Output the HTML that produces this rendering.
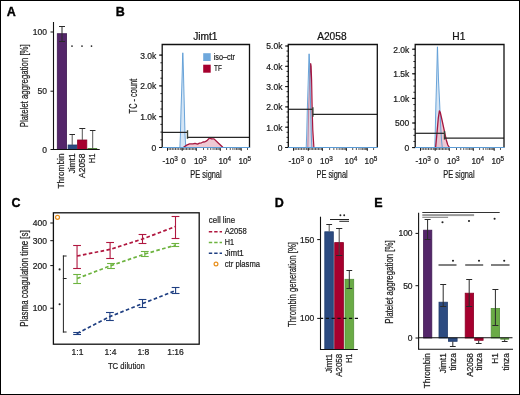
<!DOCTYPE html>
<html><head><meta charset="utf-8"><style>
html,body{margin:0;padding:0;background:#fff;}
body{width:520px;height:395px;overflow:hidden;}
svg{display:block;font-family:"Liberation Sans", sans-serif;will-change:transform;}
</style></head><body>
<svg width="520" height="395" viewBox="0 0 520 395">
<rect x="0" y="0" width="520" height="395" fill="#fff"/>
<text x="6.8" y="15.8" font-size="12.5" text-anchor="start" fill="#000" font-weight="bold" stroke="#000" stroke-width="0.35">A</text>
<rect x="57.3" y="33.7" width="9.3" height="115.8" fill="#54266a" stroke="#3f1a52" stroke-width="0.8"/>
<rect x="68.1" y="145" width="8.7" height="4.5" fill="#2c4b81" stroke="#1f3a6c" stroke-width="0.8"/>
<rect x="77.6" y="140" width="9.2" height="9.5" fill="#a6002e" stroke="#8c0026" stroke-width="0.8"/>
<line x1="87.5" y1="148.6" x2="97.2" y2="148.6" stroke="#3d7a25" stroke-width="1" />
<line x1="62" y1="26.4" x2="62" y2="41.3" stroke="#2a2a2a" stroke-width="1" />
<line x1="59.0" y1="26.5" x2="65.0" y2="26.5" stroke="#2a2a2a" stroke-width="1" />
<line x1="59.0" y1="41.5" x2="65.0" y2="41.5" stroke="#2a2a2a" stroke-width="1" />
<line x1="72.2" y1="134.8" x2="72.2" y2="145" stroke="#555" stroke-width="1" />
<line x1="69.4" y1="134.5" x2="75.0" y2="134.5" stroke="#2a2a2a" stroke-width="1" />
<line x1="82.3" y1="128.2" x2="82.3" y2="140" stroke="#555" stroke-width="1" />
<line x1="79.3" y1="128.5" x2="85.3" y2="128.5" stroke="#2a2a2a" stroke-width="1" />
<line x1="92.7" y1="130.5" x2="92.7" y2="149" stroke="#555" stroke-width="1" />
<line x1="89.9" y1="130.5" x2="95.5" y2="130.5" stroke="#2a2a2a" stroke-width="1" />
<line x1="53.5" y1="22" x2="53.5" y2="150" stroke="#111" stroke-width="1.1" />
<line x1="50.5" y1="149.5" x2="99.7" y2="149.5" stroke="#111" stroke-width="1.1" />
<line x1="50.5" y1="32" x2="53.5" y2="32" stroke="#111" stroke-width="1" />
<line x1="50.5" y1="91.2" x2="53.5" y2="91.2" stroke="#111" stroke-width="1" />
<text x="47" y="35" font-size="8.5" text-anchor="end" fill="#1c1c1c" font-weight="normal" stroke="#1c1c1c" stroke-width="0.22">100</text>
<text x="47" y="94.2" font-size="8.5" text-anchor="end" fill="#1c1c1c" font-weight="normal" stroke="#1c1c1c" stroke-width="0.22">50</text>
<text x="47" y="152.5" font-size="8.5" text-anchor="end" fill="#1c1c1c" font-weight="normal" stroke="#1c1c1c" stroke-width="0.22">0</text>
<circle cx="72" cy="46.1" r="0.85" fill="#222"/>
<circle cx="82" cy="46.1" r="0.85" fill="#222"/>
<circle cx="91.5" cy="46.1" r="0.85" fill="#222"/>
<text transform="translate(28 127.3) rotate(-90)" font-size="10" text-anchor="start" fill="#1c1c1c" textLength="83" lengthAdjust="spacingAndGlyphs" stroke="#1c1c1c" stroke-width="0.22">Platelet aggregation [%]</text>
<text transform="translate(64.1 153.5) rotate(-90)" font-size="8.3" text-anchor="end" fill="#1c1c1c" textLength="35" lengthAdjust="spacingAndGlyphs" stroke="#1c1c1c" stroke-width="0.22">Thrombin</text>
<text transform="translate(75 153.5) rotate(-90)" font-size="8.3" text-anchor="end" fill="#1c1c1c" textLength="19.8" lengthAdjust="spacingAndGlyphs" stroke="#1c1c1c" stroke-width="0.22">Jimt1</text>
<text transform="translate(84.9 153.5) rotate(-90)" font-size="8.3" text-anchor="end" fill="#1c1c1c" textLength="24.4" lengthAdjust="spacingAndGlyphs" stroke="#1c1c1c" stroke-width="0.22">A2058</text>
<text transform="translate(94.5 153.5) rotate(-90)" font-size="8.3" text-anchor="end" fill="#1c1c1c" textLength="9.7" lengthAdjust="spacingAndGlyphs" stroke="#1c1c1c" stroke-width="0.22">H1</text>
<text x="115.8" y="15.8" font-size="12.5" text-anchor="start" fill="#000" font-weight="bold" stroke="#000" stroke-width="0.35">B</text>
<text transform="translate(136.6 113.4) rotate(-90)" font-size="10.5" text-anchor="start" fill="#1c1c1c" textLength="34.6" lengthAdjust="spacingAndGlyphs" stroke="#1c1c1c" stroke-width="0.22">TC - count</text>
<text x="205.3" y="40.0" font-size="10.2" text-anchor="middle" fill="#111" font-weight="normal" stroke="#111" stroke-width="0.22">Jimt1</text>
<line x1="159.0" y1="147.5" x2="162.2" y2="147.5" stroke="#111" stroke-width="1" />
<text x="156.29999999999998" y="150.9" font-size="8.5" text-anchor="end" fill="#1c1c1c" font-weight="normal" stroke="#1c1c1c" stroke-width="0.22">0</text>
<line x1="159.0" y1="116.7" x2="162.2" y2="116.7" stroke="#111" stroke-width="1" />
<text x="156.29999999999998" y="120.10000000000001" font-size="8.5" text-anchor="end" fill="#1c1c1c" font-weight="normal" stroke="#1c1c1c" stroke-width="0.22">1.0k</text>
<line x1="159.0" y1="85.9" x2="162.2" y2="85.9" stroke="#111" stroke-width="1" />
<text x="156.29999999999998" y="89.30000000000001" font-size="8.5" text-anchor="end" fill="#1c1c1c" font-weight="normal" stroke="#1c1c1c" stroke-width="0.22">2.0k</text>
<line x1="159.0" y1="55.099999999999994" x2="162.2" y2="55.099999999999994" stroke="#111" stroke-width="1" />
<text x="156.29999999999998" y="58.49999999999999" font-size="8.5" text-anchor="end" fill="#1c1c1c" font-weight="normal" stroke="#1c1c1c" stroke-width="0.22">3.0k</text>
<line x1="160.39999999999998" y1="147.5" x2="162.2" y2="147.5" stroke="#111" stroke-width="0.9" />
<line x1="160.39999999999998" y1="139.8" x2="162.2" y2="139.8" stroke="#111" stroke-width="0.9" />
<line x1="160.39999999999998" y1="132.1" x2="162.2" y2="132.1" stroke="#111" stroke-width="0.9" />
<line x1="160.39999999999998" y1="124.4" x2="162.2" y2="124.4" stroke="#111" stroke-width="0.9" />
<line x1="160.39999999999998" y1="116.7" x2="162.2" y2="116.7" stroke="#111" stroke-width="0.9" />
<line x1="160.39999999999998" y1="109.0" x2="162.2" y2="109.0" stroke="#111" stroke-width="0.9" />
<line x1="160.39999999999998" y1="101.3" x2="162.2" y2="101.3" stroke="#111" stroke-width="0.9" />
<line x1="160.39999999999998" y1="93.6" x2="162.2" y2="93.6" stroke="#111" stroke-width="0.9" />
<line x1="160.39999999999998" y1="85.9" x2="162.2" y2="85.9" stroke="#111" stroke-width="0.9" />
<line x1="160.39999999999998" y1="78.2" x2="162.2" y2="78.2" stroke="#111" stroke-width="0.9" />
<line x1="160.39999999999998" y1="70.5" x2="162.2" y2="70.5" stroke="#111" stroke-width="0.9" />
<line x1="160.39999999999998" y1="62.8" x2="162.2" y2="62.8" stroke="#111" stroke-width="0.9" />
<line x1="160.39999999999998" y1="55.099999999999994" x2="162.2" y2="55.099999999999994" stroke="#111" stroke-width="0.9" />
<polygon points="179.9,147.5 180.4,135 181.0,110 181.7,90 182.3,70 182.6,56 182.8,52.8 183.0,56 183.4,70 183.9,90 184.4,110 185.0,135 185.8,147.5" fill="#d4e5f5" stroke="none"/>
<polygon points="183.4,147.5 185,146.2 186.7,145.1 189.5,143.9 193,143.8 195,143.3 197.5,144.2 199.5,143.2 201.5,142.8 203,142 205,141.8 207,140.6 208.5,139 209.7,137.9 211.5,138.8 214,138.9 218,142.8 222.8,147.3" fill="#ebbcc8" fill-opacity="0.8" stroke="none"/>
<polygon points="179.9,147.5 180.4,135 181.0,110 181.7,90 182.3,70 182.6,56 182.8,52.8 183.0,56 183.4,70 183.9,90 184.4,110 185.0,135 185.8,147.5" fill="none" stroke="#5b9bd5" stroke-width="0.9" stroke-linejoin="round"/>
<polyline points="183.4,147.5 185,146.2 186.7,145.1 189.5,143.9 193,143.8 195,143.3 197.5,144.2 199.5,143.2 201.5,142.8 203,142 205,141.8 207,140.6 208.5,139 209.7,137.9 211.5,138.8 214,138.9 218,142.8 222.8,147.3" fill="none" stroke="#a5163f" stroke-width="1.3" stroke-linejoin="round"/>
<line x1="162.2" y1="132.4" x2="187.5" y2="132.4" stroke="#262626" stroke-width="1.25" />
<line x1="187.5" y1="130.2" x2="187.5" y2="138.8" stroke="#3a463a" stroke-width="1.4" />
<line x1="187.5" y1="137.3" x2="249.5" y2="137.3" stroke="#262626" stroke-width="1.25" />
<polyline points="162.2,147.5 162.2,44.5 249.5,44.5 249.5,147.5" fill="none" stroke="#111" stroke-width="1.3"/>
<line x1="162.2" y1="147.5" x2="250.1" y2="147.5" stroke="#5b9bd5" stroke-width="1.2" />
<line x1="167.5" y1="148.1" x2="167.5" y2="149.9" stroke="#222" stroke-width="0.85" />
<line x1="169.1" y1="148.1" x2="169.1" y2="149.9" stroke="#222" stroke-width="0.85" />
<line x1="170.7" y1="148.1" x2="170.7" y2="149.9" stroke="#222" stroke-width="0.85" />
<line x1="172.29999999999998" y1="148.1" x2="172.29999999999998" y2="149.9" stroke="#222" stroke-width="0.85" />
<line x1="173.89999999999998" y1="148.1" x2="173.89999999999998" y2="149.9" stroke="#222" stroke-width="0.85" />
<line x1="175.5" y1="148.1" x2="175.5" y2="149.9" stroke="#222" stroke-width="0.85" />
<line x1="177.1" y1="148.1" x2="177.1" y2="149.9" stroke="#222" stroke-width="0.85" />
<line x1="178.7" y1="148.1" x2="178.7" y2="149.9" stroke="#222" stroke-width="0.85" />
<line x1="180.29999999999998" y1="148.1" x2="180.29999999999998" y2="149.9" stroke="#222" stroke-width="0.85" />
<line x1="181.89999999999998" y1="148.1" x2="181.89999999999998" y2="149.9" stroke="#222" stroke-width="0.85" />
<line x1="183.64999999999998" y1="148.1" x2="183.64999999999998" y2="149.9" stroke="#222" stroke-width="0.85" />
<line x1="185.1" y1="148.1" x2="185.1" y2="149.9" stroke="#222" stroke-width="0.85" />
<line x1="186.54999999999998" y1="148.1" x2="186.54999999999998" y2="149.9" stroke="#222" stroke-width="0.85" />
<line x1="188.0" y1="148.1" x2="188.0" y2="149.9" stroke="#222" stroke-width="0.85" />
<line x1="189.45" y1="148.1" x2="189.45" y2="149.9" stroke="#222" stroke-width="0.85" />
<line x1="190.89999999999998" y1="148.1" x2="190.89999999999998" y2="149.9" stroke="#222" stroke-width="0.85" />
<line x1="192.35" y1="148.1" x2="192.35" y2="149.9" stroke="#222" stroke-width="0.85" />
<line x1="193.79999999999998" y1="148.1" x2="193.79999999999998" y2="149.9" stroke="#222" stroke-width="0.85" />
<line x1="195.25" y1="148.1" x2="195.25" y2="149.9" stroke="#222" stroke-width="0.85" />
<line x1="203.52471989593553" y1="148.1" x2="203.52471989593553" y2="149.9" stroke="#222" stroke-width="0.85" />
<line x1="226.5915269093772" y1="148.1" x2="226.5915269093772" y2="149.9" stroke="#222" stroke-width="0.85" />
<line x1="207.75091011327189" y1="148.1" x2="207.75091011327189" y2="149.9" stroke="#222" stroke-width="0.85" />
<line x1="230.27183422364095" y1="148.1" x2="230.27183422364095" y2="149.9" stroke="#222" stroke-width="0.85" />
<line x1="210.74943979187108" y1="148.1" x2="210.74943979187108" y2="149.9" stroke="#222" stroke-width="0.85" />
<line x1="232.8830538187544" y1="148.1" x2="232.8830538187544" y2="149.9" stroke="#222" stroke-width="0.85" />
<line x1="213.07528010406446" y1="148.1" x2="213.07528010406446" y2="149.9" stroke="#222" stroke-width="0.85" />
<line x1="234.90847309062278" y1="148.1" x2="234.90847309062278" y2="149.9" stroke="#222" stroke-width="0.85" />
<line x1="214.97563000920744" y1="148.1" x2="214.97563000920744" y2="149.9" stroke="#222" stroke-width="0.85" />
<line x1="236.56336113301813" y1="148.1" x2="236.56336113301813" y2="149.9" stroke="#222" stroke-width="0.85" />
<line x1="216.58235296034215" y1="148.1" x2="216.58235296034215" y2="149.9" stroke="#222" stroke-width="0.85" />
<line x1="237.96254903629796" y1="148.1" x2="237.96254903629796" y2="149.9" stroke="#222" stroke-width="0.85" />
<line x1="217.97415968780663" y1="148.1" x2="217.97415968780663" y2="149.9" stroke="#222" stroke-width="0.85" />
<line x1="239.17458072813162" y1="148.1" x2="239.17458072813162" y2="149.9" stroke="#222" stroke-width="0.85" />
<line x1="219.2018202265438" y1="148.1" x2="219.2018202265438" y2="149.9" stroke="#222" stroke-width="0.85" />
<line x1="240.2436684472819" y1="148.1" x2="240.2436684472819" y2="149.9" stroke="#222" stroke-width="0.85" />
<line x1="247.4915269093772" y1="148.1" x2="247.4915269093772" y2="149.9" stroke="#222" stroke-width="0.85" />
<line x1="167.5" y1="148.1" x2="167.5" y2="150.8" stroke="#111" stroke-width="1" />
<line x1="182.2" y1="148.1" x2="182.2" y2="150.8" stroke="#111" stroke-width="1" />
<line x1="196.29999999999998" y1="148.1" x2="196.29999999999998" y2="150.8" stroke="#111" stroke-width="1" />
<line x1="220.29999999999998" y1="148.1" x2="220.29999999999998" y2="150.8" stroke="#111" stroke-width="1" />
<line x1="241.2" y1="148.1" x2="241.2" y2="150.8" stroke="#111" stroke-width="1" />
<text x="162.5" y="164.2" font-size="8.2" text-anchor="start" fill="#1c1c1c" font-weight="normal" stroke="#1c1c1c" stroke-width="0.22">-10<tspan font-size="6.4" dy="-2.9">3</tspan></text>
<text x="181.29999999999998" y="164.2" font-size="8.2" text-anchor="start" fill="#1c1c1c" font-weight="normal" stroke="#1c1c1c" stroke-width="0.22">0</text>
<text x="194.0" y="164.2" font-size="8.2" text-anchor="start" fill="#1c1c1c" font-weight="normal" stroke="#1c1c1c" stroke-width="0.22">10<tspan font-size="6.4" dy="-2.9">3</tspan></text>
<text x="218.5" y="164.2" font-size="8.2" text-anchor="start" fill="#1c1c1c" font-weight="normal" stroke="#1c1c1c" stroke-width="0.22">10<tspan font-size="6.4" dy="-2.9">4</tspan></text>
<text x="238.5" y="164.2" font-size="8.2" text-anchor="start" fill="#1c1c1c" font-weight="normal" stroke="#1c1c1c" stroke-width="0.22">10<tspan font-size="6.4" dy="-2.9">5</tspan></text>
<text x="206.0" y="177.9" font-size="10.4" text-anchor="middle" fill="#1c1c1c" font-weight="normal" textLength="31.3" lengthAdjust="spacingAndGlyphs" stroke="#1c1c1c" stroke-width="0.22">PE signal</text>
<rect x="203.2" y="53.2" width="7.5" height="7.8" fill="#6fa8dc" stroke="none" stroke-width="0.8"/>
<text x="213.7" y="60.4" font-size="8.8" text-anchor="start" fill="#1c1c1c" font-weight="normal" textLength="21.3" lengthAdjust="spacingAndGlyphs" stroke="#1c1c1c" stroke-width="0.22">iso–ctr</text>
<rect x="203.2" y="64.7" width="7.5" height="8" fill="#a6002e" stroke="none" stroke-width="0.8"/>
<text x="214" y="71.3" font-size="8.8" text-anchor="start" fill="#1c1c1c" font-weight="normal" textLength="7.8" lengthAdjust="spacingAndGlyphs" stroke="#1c1c1c" stroke-width="0.22">TF</text>
<text x="331.9" y="40.0" font-size="10.2" text-anchor="middle" fill="#111" font-weight="normal" stroke="#111" stroke-width="0.22">A2058</text>
<line x1="285.1" y1="147.5" x2="288.3" y2="147.5" stroke="#111" stroke-width="1" />
<text x="282.40000000000003" y="150.9" font-size="8.5" text-anchor="end" fill="#1c1c1c" font-weight="normal" stroke="#1c1c1c" stroke-width="0.22">0</text>
<line x1="285.1" y1="127.2" x2="288.3" y2="127.2" stroke="#111" stroke-width="1" />
<text x="282.40000000000003" y="130.6" font-size="8.5" text-anchor="end" fill="#1c1c1c" font-weight="normal" stroke="#1c1c1c" stroke-width="0.22">1.0k</text>
<line x1="285.1" y1="106.9" x2="288.3" y2="106.9" stroke="#111" stroke-width="1" />
<text x="282.40000000000003" y="110.30000000000001" font-size="8.5" text-anchor="end" fill="#1c1c1c" font-weight="normal" stroke="#1c1c1c" stroke-width="0.22">2.0k</text>
<line x1="285.1" y1="86.6" x2="288.3" y2="86.6" stroke="#111" stroke-width="1" />
<text x="282.40000000000003" y="90.0" font-size="8.5" text-anchor="end" fill="#1c1c1c" font-weight="normal" stroke="#1c1c1c" stroke-width="0.22">3.0k</text>
<line x1="285.1" y1="66.3" x2="288.3" y2="66.3" stroke="#111" stroke-width="1" />
<text x="282.40000000000003" y="69.7" font-size="8.5" text-anchor="end" fill="#1c1c1c" font-weight="normal" stroke="#1c1c1c" stroke-width="0.22">4.0k</text>
<line x1="285.1" y1="46.0" x2="288.3" y2="46.0" stroke="#111" stroke-width="1" />
<text x="282.40000000000003" y="49.4" font-size="8.5" text-anchor="end" fill="#1c1c1c" font-weight="normal" stroke="#1c1c1c" stroke-width="0.22">5.0k</text>
<line x1="286.5" y1="147.5" x2="288.3" y2="147.5" stroke="#111" stroke-width="0.9" />
<line x1="286.5" y1="142.425" x2="288.3" y2="142.425" stroke="#111" stroke-width="0.9" />
<line x1="286.5" y1="137.35" x2="288.3" y2="137.35" stroke="#111" stroke-width="0.9" />
<line x1="286.5" y1="132.275" x2="288.3" y2="132.275" stroke="#111" stroke-width="0.9" />
<line x1="286.5" y1="127.2" x2="288.3" y2="127.2" stroke="#111" stroke-width="0.9" />
<line x1="286.5" y1="122.125" x2="288.3" y2="122.125" stroke="#111" stroke-width="0.9" />
<line x1="286.5" y1="117.05" x2="288.3" y2="117.05" stroke="#111" stroke-width="0.9" />
<line x1="286.5" y1="111.975" x2="288.3" y2="111.975" stroke="#111" stroke-width="0.9" />
<line x1="286.5" y1="106.9" x2="288.3" y2="106.9" stroke="#111" stroke-width="0.9" />
<line x1="286.5" y1="101.82499999999999" x2="288.3" y2="101.82499999999999" stroke="#111" stroke-width="0.9" />
<line x1="286.5" y1="96.75" x2="288.3" y2="96.75" stroke="#111" stroke-width="0.9" />
<line x1="286.5" y1="91.675" x2="288.3" y2="91.675" stroke="#111" stroke-width="0.9" />
<line x1="286.5" y1="86.6" x2="288.3" y2="86.6" stroke="#111" stroke-width="0.9" />
<line x1="286.5" y1="81.52499999999999" x2="288.3" y2="81.52499999999999" stroke="#111" stroke-width="0.9" />
<line x1="286.5" y1="76.45" x2="288.3" y2="76.45" stroke="#111" stroke-width="0.9" />
<line x1="286.5" y1="71.375" x2="288.3" y2="71.375" stroke="#111" stroke-width="0.9" />
<line x1="286.5" y1="66.3" x2="288.3" y2="66.3" stroke="#111" stroke-width="0.9" />
<line x1="286.5" y1="61.224999999999994" x2="288.3" y2="61.224999999999994" stroke="#111" stroke-width="0.9" />
<line x1="286.5" y1="56.14999999999999" x2="288.3" y2="56.14999999999999" stroke="#111" stroke-width="0.9" />
<line x1="286.5" y1="51.075" x2="288.3" y2="51.075" stroke="#111" stroke-width="0.9" />
<line x1="286.5" y1="46.0" x2="288.3" y2="46.0" stroke="#111" stroke-width="0.9" />
<polygon points="307.8,147.5 308.2,130 308.6,110 309.7,80 310.4,66 310.7,63.7 311.1,66 311.6,80 312.2,110 312.8,130 313.9,147.5" fill="#ebbcc8" stroke="none"/>
<polyline points="307.8,147.5 308.2,130 308.6,110 309.7,80 310.4,66 310.7,63.7 311.1,66 311.6,80 312.2,110 312.8,130 313.9,147.5" fill="none" stroke="#a5163f" stroke-width="1.2" stroke-linejoin="round"/>
<polygon points="306.2,147.5 306.7,135 307.3,110 308.1,85 308.7,65 308.95,56 309.1,53.8 309.3,56 309.6,65 310.1,85 310.7,110 311.3,135 311.8,147.5" fill="#d4e5f5" fill-opacity="0.55" stroke="#5b9bd5" stroke-width="0.9" stroke-linejoin="round"/>
<line x1="288.3" y1="109.3" x2="312.9" y2="109.3" stroke="#262626" stroke-width="1.25" />
<line x1="312.9" y1="107.2" x2="312.9" y2="116.8" stroke="#3a463a" stroke-width="1.4" />
<line x1="312.9" y1="114.3" x2="377.3" y2="114.3" stroke="#262626" stroke-width="1.25" />
<polyline points="288.3,147.5 288.3,44.5 377.3,44.5 377.3,147.5" fill="none" stroke="#111" stroke-width="1.3"/>
<line x1="288.3" y1="147.5" x2="377.90000000000003" y2="147.5" stroke="#5b9bd5" stroke-width="1.2" />
<line x1="293.6" y1="148.1" x2="293.6" y2="149.9" stroke="#222" stroke-width="0.85" />
<line x1="295.2" y1="148.1" x2="295.2" y2="149.9" stroke="#222" stroke-width="0.85" />
<line x1="296.8" y1="148.1" x2="296.8" y2="149.9" stroke="#222" stroke-width="0.85" />
<line x1="298.40000000000003" y1="148.1" x2="298.40000000000003" y2="149.9" stroke="#222" stroke-width="0.85" />
<line x1="300.0" y1="148.1" x2="300.0" y2="149.9" stroke="#222" stroke-width="0.85" />
<line x1="301.6" y1="148.1" x2="301.6" y2="149.9" stroke="#222" stroke-width="0.85" />
<line x1="303.2" y1="148.1" x2="303.2" y2="149.9" stroke="#222" stroke-width="0.85" />
<line x1="304.8" y1="148.1" x2="304.8" y2="149.9" stroke="#222" stroke-width="0.85" />
<line x1="306.40000000000003" y1="148.1" x2="306.40000000000003" y2="149.9" stroke="#222" stroke-width="0.85" />
<line x1="308.0" y1="148.1" x2="308.0" y2="149.9" stroke="#222" stroke-width="0.85" />
<line x1="309.75" y1="148.1" x2="309.75" y2="149.9" stroke="#222" stroke-width="0.85" />
<line x1="311.2" y1="148.1" x2="311.2" y2="149.9" stroke="#222" stroke-width="0.85" />
<line x1="312.65000000000003" y1="148.1" x2="312.65000000000003" y2="149.9" stroke="#222" stroke-width="0.85" />
<line x1="314.1" y1="148.1" x2="314.1" y2="149.9" stroke="#222" stroke-width="0.85" />
<line x1="315.55" y1="148.1" x2="315.55" y2="149.9" stroke="#222" stroke-width="0.85" />
<line x1="317.0" y1="148.1" x2="317.0" y2="149.9" stroke="#222" stroke-width="0.85" />
<line x1="318.45" y1="148.1" x2="318.45" y2="149.9" stroke="#222" stroke-width="0.85" />
<line x1="319.90000000000003" y1="148.1" x2="319.90000000000003" y2="149.9" stroke="#222" stroke-width="0.85" />
<line x1="321.35" y1="148.1" x2="321.35" y2="149.9" stroke="#222" stroke-width="0.85" />
<line x1="329.6247198959356" y1="148.1" x2="329.6247198959356" y2="149.9" stroke="#222" stroke-width="0.85" />
<line x1="352.6915269093772" y1="148.1" x2="352.6915269093772" y2="149.9" stroke="#222" stroke-width="0.85" />
<line x1="333.8509101132719" y1="148.1" x2="333.8509101132719" y2="149.9" stroke="#222" stroke-width="0.85" />
<line x1="356.371834223641" y1="148.1" x2="356.371834223641" y2="149.9" stroke="#222" stroke-width="0.85" />
<line x1="336.8494397918711" y1="148.1" x2="336.8494397918711" y2="149.9" stroke="#222" stroke-width="0.85" />
<line x1="358.98305381875446" y1="148.1" x2="358.98305381875446" y2="149.9" stroke="#222" stroke-width="0.85" />
<line x1="339.1752801040645" y1="148.1" x2="339.1752801040645" y2="149.9" stroke="#222" stroke-width="0.85" />
<line x1="361.00847309062283" y1="148.1" x2="361.00847309062283" y2="149.9" stroke="#222" stroke-width="0.85" />
<line x1="341.07563000920743" y1="148.1" x2="341.07563000920743" y2="149.9" stroke="#222" stroke-width="0.85" />
<line x1="362.66336113301816" y1="148.1" x2="362.66336113301816" y2="149.9" stroke="#222" stroke-width="0.85" />
<line x1="342.6823529603422" y1="148.1" x2="342.6823529603422" y2="149.9" stroke="#222" stroke-width="0.85" />
<line x1="364.062549036298" y1="148.1" x2="364.062549036298" y2="149.9" stroke="#222" stroke-width="0.85" />
<line x1="344.0741596878066" y1="148.1" x2="344.0741596878066" y2="149.9" stroke="#222" stroke-width="0.85" />
<line x1="365.27458072813164" y1="148.1" x2="365.27458072813164" y2="149.9" stroke="#222" stroke-width="0.85" />
<line x1="345.3018202265438" y1="148.1" x2="345.3018202265438" y2="149.9" stroke="#222" stroke-width="0.85" />
<line x1="366.3436684472819" y1="148.1" x2="366.3436684472819" y2="149.9" stroke="#222" stroke-width="0.85" />
<line x1="373.5915269093772" y1="148.1" x2="373.5915269093772" y2="149.9" stroke="#222" stroke-width="0.85" />
<line x1="293.6" y1="148.1" x2="293.6" y2="150.8" stroke="#111" stroke-width="1" />
<line x1="308.3" y1="148.1" x2="308.3" y2="150.8" stroke="#111" stroke-width="1" />
<line x1="322.40000000000003" y1="148.1" x2="322.40000000000003" y2="150.8" stroke="#111" stroke-width="1" />
<line x1="346.40000000000003" y1="148.1" x2="346.40000000000003" y2="150.8" stroke="#111" stroke-width="1" />
<line x1="367.3" y1="148.1" x2="367.3" y2="150.8" stroke="#111" stroke-width="1" />
<text x="288.6" y="164.2" font-size="8.2" text-anchor="start" fill="#1c1c1c" font-weight="normal" stroke="#1c1c1c" stroke-width="0.22">-10<tspan font-size="6.4" dy="-2.9">3</tspan></text>
<text x="307.40000000000003" y="164.2" font-size="8.2" text-anchor="start" fill="#1c1c1c" font-weight="normal" stroke="#1c1c1c" stroke-width="0.22">0</text>
<text x="320.1" y="164.2" font-size="8.2" text-anchor="start" fill="#1c1c1c" font-weight="normal" stroke="#1c1c1c" stroke-width="0.22">10<tspan font-size="6.4" dy="-2.9">3</tspan></text>
<text x="344.6" y="164.2" font-size="8.2" text-anchor="start" fill="#1c1c1c" font-weight="normal" stroke="#1c1c1c" stroke-width="0.22">10<tspan font-size="6.4" dy="-2.9">4</tspan></text>
<text x="364.6" y="164.2" font-size="8.2" text-anchor="start" fill="#1c1c1c" font-weight="normal" stroke="#1c1c1c" stroke-width="0.22">10<tspan font-size="6.4" dy="-2.9">5</tspan></text>
<text x="332.1" y="177.9" font-size="10.4" text-anchor="middle" fill="#1c1c1c" font-weight="normal" textLength="31.3" lengthAdjust="spacingAndGlyphs" stroke="#1c1c1c" stroke-width="0.22">PE signal</text>
<text x="458.8" y="40.0" font-size="10.2" text-anchor="middle" fill="#111" font-weight="normal" stroke="#111" stroke-width="0.22">H1</text>
<line x1="412.0" y1="147.6" x2="415.2" y2="147.6" stroke="#111" stroke-width="1" />
<text x="409.3" y="151.0" font-size="8.5" text-anchor="end" fill="#1c1c1c" font-weight="normal" stroke="#1c1c1c" stroke-width="0.22">0</text>
<line x1="412.0" y1="123.0" x2="415.2" y2="123.0" stroke="#111" stroke-width="1" />
<text x="409.3" y="126.4" font-size="8.5" text-anchor="end" fill="#1c1c1c" font-weight="normal" stroke="#1c1c1c" stroke-width="0.22">500</text>
<line x1="412.0" y1="98.39999999999999" x2="415.2" y2="98.39999999999999" stroke="#111" stroke-width="1" />
<text x="409.3" y="101.8" font-size="8.5" text-anchor="end" fill="#1c1c1c" font-weight="normal" stroke="#1c1c1c" stroke-width="0.22">1.0k</text>
<line x1="412.0" y1="73.79999999999998" x2="415.2" y2="73.79999999999998" stroke="#111" stroke-width="1" />
<text x="409.3" y="77.19999999999999" font-size="8.5" text-anchor="end" fill="#1c1c1c" font-weight="normal" stroke="#1c1c1c" stroke-width="0.22">1.5k</text>
<line x1="412.0" y1="49.19999999999999" x2="415.2" y2="49.19999999999999" stroke="#111" stroke-width="1" />
<text x="409.3" y="52.59999999999999" font-size="8.5" text-anchor="end" fill="#1c1c1c" font-weight="normal" stroke="#1c1c1c" stroke-width="0.22">2.0k</text>
<line x1="413.4" y1="147.6" x2="415.2" y2="147.6" stroke="#111" stroke-width="0.9" />
<line x1="413.4" y1="141.45" x2="415.2" y2="141.45" stroke="#111" stroke-width="0.9" />
<line x1="413.4" y1="135.29999999999998" x2="415.2" y2="135.29999999999998" stroke="#111" stroke-width="0.9" />
<line x1="413.4" y1="129.14999999999998" x2="415.2" y2="129.14999999999998" stroke="#111" stroke-width="0.9" />
<line x1="413.4" y1="123.0" x2="415.2" y2="123.0" stroke="#111" stroke-width="0.9" />
<line x1="413.4" y1="116.85" x2="415.2" y2="116.85" stroke="#111" stroke-width="0.9" />
<line x1="413.4" y1="110.69999999999999" x2="415.2" y2="110.69999999999999" stroke="#111" stroke-width="0.9" />
<line x1="413.4" y1="104.54999999999998" x2="415.2" y2="104.54999999999998" stroke="#111" stroke-width="0.9" />
<line x1="413.4" y1="98.39999999999999" x2="415.2" y2="98.39999999999999" stroke="#111" stroke-width="0.9" />
<line x1="413.4" y1="92.25" x2="415.2" y2="92.25" stroke="#111" stroke-width="0.9" />
<line x1="413.4" y1="86.1" x2="415.2" y2="86.1" stroke="#111" stroke-width="0.9" />
<line x1="413.4" y1="79.94999999999999" x2="415.2" y2="79.94999999999999" stroke="#111" stroke-width="0.9" />
<line x1="413.4" y1="73.79999999999998" x2="415.2" y2="73.79999999999998" stroke="#111" stroke-width="0.9" />
<line x1="413.4" y1="67.64999999999999" x2="415.2" y2="67.64999999999999" stroke="#111" stroke-width="0.9" />
<line x1="413.4" y1="61.499999999999986" x2="415.2" y2="61.499999999999986" stroke="#111" stroke-width="0.9" />
<line x1="413.4" y1="55.349999999999994" x2="415.2" y2="55.349999999999994" stroke="#111" stroke-width="0.9" />
<line x1="413.4" y1="49.19999999999999" x2="415.2" y2="49.19999999999999" stroke="#111" stroke-width="0.9" />
<polygon points="434.8,147.6 435.3,130 435.9,104 436.6,80 437.1,60 437.3,50 437.45,46.8 437.6,50 437.9,60 438.5,80 439.7,104 440.6,125 441.5,140 442.3,147.6" fill="#d4e5f5" stroke="none"/>
<polygon points="435.6,147.6 436.8,135 438.3,118 439.4,110.8 440.3,112.5 442,120 444.5,131.6 446.3,140 447.8,145 449.5,147.6" fill="#ebbcc8" fill-opacity="0.8" stroke="none"/>
<polygon points="434.8,147.6 435.3,130 435.9,104 436.6,80 437.1,60 437.3,50 437.45,46.8 437.6,50 437.9,60 438.5,80 439.7,104 440.6,125 441.5,140 442.3,147.6" fill="none" stroke="#5b9bd5" stroke-width="0.9" stroke-linejoin="round"/>
<polyline points="435.6,147.6 436.8,135 438.3,118 439.4,110.8 440.3,112.5 442,120 444.5,131.6 446.3,140 447.8,145 449.5,147.6" fill="none" stroke="#a5163f" stroke-width="1.3" stroke-linejoin="round"/>
<line x1="415.2" y1="133.3" x2="444.5" y2="133.3" stroke="#262626" stroke-width="1.25" />
<line x1="444.5" y1="131" x2="444.5" y2="139.6" stroke="#3a463a" stroke-width="1.4" />
<line x1="444.5" y1="138.1" x2="504.0" y2="138.1" stroke="#262626" stroke-width="1.25" />
<polyline points="415.2,147.5 415.2,44.5 504.0,44.5 504.0,147.5" fill="none" stroke="#111" stroke-width="1.3"/>
<line x1="415.2" y1="147.5" x2="504.6" y2="147.5" stroke="#5b9bd5" stroke-width="1.2" />
<line x1="420.5" y1="148.1" x2="420.5" y2="149.9" stroke="#222" stroke-width="0.85" />
<line x1="422.09999999999997" y1="148.1" x2="422.09999999999997" y2="149.9" stroke="#222" stroke-width="0.85" />
<line x1="423.7" y1="148.1" x2="423.7" y2="149.9" stroke="#222" stroke-width="0.85" />
<line x1="425.3" y1="148.1" x2="425.3" y2="149.9" stroke="#222" stroke-width="0.85" />
<line x1="426.9" y1="148.1" x2="426.9" y2="149.9" stroke="#222" stroke-width="0.85" />
<line x1="428.5" y1="148.1" x2="428.5" y2="149.9" stroke="#222" stroke-width="0.85" />
<line x1="430.09999999999997" y1="148.1" x2="430.09999999999997" y2="149.9" stroke="#222" stroke-width="0.85" />
<line x1="431.7" y1="148.1" x2="431.7" y2="149.9" stroke="#222" stroke-width="0.85" />
<line x1="433.3" y1="148.1" x2="433.3" y2="149.9" stroke="#222" stroke-width="0.85" />
<line x1="434.9" y1="148.1" x2="434.9" y2="149.9" stroke="#222" stroke-width="0.85" />
<line x1="436.65" y1="148.1" x2="436.65" y2="149.9" stroke="#222" stroke-width="0.85" />
<line x1="438.09999999999997" y1="148.1" x2="438.09999999999997" y2="149.9" stroke="#222" stroke-width="0.85" />
<line x1="439.55" y1="148.1" x2="439.55" y2="149.9" stroke="#222" stroke-width="0.85" />
<line x1="441.0" y1="148.1" x2="441.0" y2="149.9" stroke="#222" stroke-width="0.85" />
<line x1="442.45" y1="148.1" x2="442.45" y2="149.9" stroke="#222" stroke-width="0.85" />
<line x1="443.9" y1="148.1" x2="443.9" y2="149.9" stroke="#222" stroke-width="0.85" />
<line x1="445.34999999999997" y1="148.1" x2="445.34999999999997" y2="149.9" stroke="#222" stroke-width="0.85" />
<line x1="446.8" y1="148.1" x2="446.8" y2="149.9" stroke="#222" stroke-width="0.85" />
<line x1="448.25" y1="148.1" x2="448.25" y2="149.9" stroke="#222" stroke-width="0.85" />
<line x1="456.52471989593556" y1="148.1" x2="456.52471989593556" y2="149.9" stroke="#222" stroke-width="0.85" />
<line x1="479.5915269093772" y1="148.1" x2="479.5915269093772" y2="149.9" stroke="#222" stroke-width="0.85" />
<line x1="460.75091011327186" y1="148.1" x2="460.75091011327186" y2="149.9" stroke="#222" stroke-width="0.85" />
<line x1="483.27183422364095" y1="148.1" x2="483.27183422364095" y2="149.9" stroke="#222" stroke-width="0.85" />
<line x1="463.74943979187105" y1="148.1" x2="463.74943979187105" y2="149.9" stroke="#222" stroke-width="0.85" />
<line x1="485.88305381875443" y1="148.1" x2="485.88305381875443" y2="149.9" stroke="#222" stroke-width="0.85" />
<line x1="466.07528010406446" y1="148.1" x2="466.07528010406446" y2="149.9" stroke="#222" stroke-width="0.85" />
<line x1="487.9084730906228" y1="148.1" x2="487.9084730906228" y2="149.9" stroke="#222" stroke-width="0.85" />
<line x1="467.9756300092074" y1="148.1" x2="467.9756300092074" y2="149.9" stroke="#222" stroke-width="0.85" />
<line x1="489.56336113301813" y1="148.1" x2="489.56336113301813" y2="149.9" stroke="#222" stroke-width="0.85" />
<line x1="469.5823529603422" y1="148.1" x2="469.5823529603422" y2="149.9" stroke="#222" stroke-width="0.85" />
<line x1="490.96254903629796" y1="148.1" x2="490.96254903629796" y2="149.9" stroke="#222" stroke-width="0.85" />
<line x1="470.9741596878066" y1="148.1" x2="470.9741596878066" y2="149.9" stroke="#222" stroke-width="0.85" />
<line x1="492.1745807281316" y1="148.1" x2="492.1745807281316" y2="149.9" stroke="#222" stroke-width="0.85" />
<line x1="472.20182022654376" y1="148.1" x2="472.20182022654376" y2="149.9" stroke="#222" stroke-width="0.85" />
<line x1="493.2436684472819" y1="148.1" x2="493.2436684472819" y2="149.9" stroke="#222" stroke-width="0.85" />
<line x1="500.49152690937717" y1="148.1" x2="500.49152690937717" y2="149.9" stroke="#222" stroke-width="0.85" />
<line x1="420.5" y1="148.1" x2="420.5" y2="150.8" stroke="#111" stroke-width="1" />
<line x1="435.2" y1="148.1" x2="435.2" y2="150.8" stroke="#111" stroke-width="1" />
<line x1="449.3" y1="148.1" x2="449.3" y2="150.8" stroke="#111" stroke-width="1" />
<line x1="473.3" y1="148.1" x2="473.3" y2="150.8" stroke="#111" stroke-width="1" />
<line x1="494.2" y1="148.1" x2="494.2" y2="150.8" stroke="#111" stroke-width="1" />
<text x="415.5" y="164.2" font-size="8.2" text-anchor="start" fill="#1c1c1c" font-weight="normal" stroke="#1c1c1c" stroke-width="0.22">-10<tspan font-size="6.4" dy="-2.9">3</tspan></text>
<text x="434.3" y="164.2" font-size="8.2" text-anchor="start" fill="#1c1c1c" font-weight="normal" stroke="#1c1c1c" stroke-width="0.22">0</text>
<text x="447.0" y="164.2" font-size="8.2" text-anchor="start" fill="#1c1c1c" font-weight="normal" stroke="#1c1c1c" stroke-width="0.22">10<tspan font-size="6.4" dy="-2.9">3</tspan></text>
<text x="471.5" y="164.2" font-size="8.2" text-anchor="start" fill="#1c1c1c" font-weight="normal" stroke="#1c1c1c" stroke-width="0.22">10<tspan font-size="6.4" dy="-2.9">4</tspan></text>
<text x="491.5" y="164.2" font-size="8.2" text-anchor="start" fill="#1c1c1c" font-weight="normal" stroke="#1c1c1c" stroke-width="0.22">10<tspan font-size="6.4" dy="-2.9">5</tspan></text>
<text x="459.0" y="177.9" font-size="10.4" text-anchor="middle" fill="#1c1c1c" font-weight="normal" textLength="31.3" lengthAdjust="spacingAndGlyphs" stroke="#1c1c1c" stroke-width="0.22">PE signal</text>
<text x="11.4" y="207.2" font-size="12.5" text-anchor="start" fill="#000" font-weight="bold" stroke="#000" stroke-width="0.35">C</text>
<rect x="53.4" y="212.8" width="145.8" height="131.4" fill="none" stroke="#111" stroke-width="1.3"/>
<line x1="50.3" y1="308.2" x2="53.4" y2="308.2" stroke="#111" stroke-width="1" />
<text x="47" y="311.2" font-size="8.5" text-anchor="end" fill="#1c1c1c" font-weight="normal" stroke="#1c1c1c" stroke-width="0.22">100</text>
<line x1="50.3" y1="265.6042556135466" x2="53.4" y2="265.6042556135466" stroke="#111" stroke-width="1" />
<text x="47" y="268.6042556135466" font-size="8.5" text-anchor="end" fill="#1c1c1c" font-weight="normal" stroke="#1c1c1c" stroke-width="0.22">200</text>
<line x1="50.3" y1="240.68734245716774" x2="53.4" y2="240.68734245716774" stroke="#111" stroke-width="1" />
<text x="47" y="243.68734245716774" font-size="8.5" text-anchor="end" fill="#1c1c1c" font-weight="normal" stroke="#1c1c1c" stroke-width="0.22">300</text>
<line x1="50.3" y1="223.0085112270933" x2="53.4" y2="223.0085112270933" stroke="#111" stroke-width="1" />
<text x="47" y="226.0085112270933" font-size="8.5" text-anchor="end" fill="#1c1c1c" font-weight="normal" stroke="#1c1c1c" stroke-width="0.22">400</text>
<text transform="translate(28.2 326.8) rotate(-90)" font-size="10" text-anchor="start" fill="#1c1c1c" textLength="96.5" lengthAdjust="spacingAndGlyphs" stroke="#1c1c1c" stroke-width="0.22">Plasma coagulation time [s]</text>
<text x="77.5" y="355" font-size="8.5" text-anchor="middle" fill="#1c1c1c" font-weight="normal" stroke="#1c1c1c" stroke-width="0.22">1:1</text>
<text x="110.5" y="355" font-size="8.5" text-anchor="middle" fill="#1c1c1c" font-weight="normal" stroke="#1c1c1c" stroke-width="0.22">1:4</text>
<text x="143.3" y="355" font-size="8.5" text-anchor="middle" fill="#1c1c1c" font-weight="normal" stroke="#1c1c1c" stroke-width="0.22">1:8</text>
<text x="175.5" y="355" font-size="8.5" text-anchor="middle" fill="#1c1c1c" font-weight="normal" stroke="#1c1c1c" stroke-width="0.22">1:16</text>
<text x="126.4" y="368.5" font-size="9.8" text-anchor="middle" fill="#1c1c1c" font-weight="normal" textLength="37" lengthAdjust="spacingAndGlyphs" stroke="#1c1c1c" stroke-width="0.22">TC dilution</text>
<polyline points="77.05,256 110.1,249.4 142.5,239 175.5,226.5" fill="none" stroke="#b0173f" stroke-width="1.7" stroke-dasharray="3.6 2.4"/>
<line x1="77.05" y1="245.1" x2="77.05" y2="268.2" stroke="#b0173f" stroke-width="1.1" />
<line x1="73.14999999999999" y1="245.5" x2="80.95" y2="245.5" stroke="#b0173f" stroke-width="1.1" />
<line x1="73.14999999999999" y1="268.5" x2="80.95" y2="268.5" stroke="#b0173f" stroke-width="1.1" />
<line x1="110.1" y1="242.8" x2="110.1" y2="258.5" stroke="#b0173f" stroke-width="1.1" />
<line x1="106.19999999999999" y1="242.5" x2="114.0" y2="242.5" stroke="#b0173f" stroke-width="1.1" />
<line x1="106.19999999999999" y1="258.5" x2="114.0" y2="258.5" stroke="#b0173f" stroke-width="1.1" />
<line x1="142.5" y1="234.6" x2="142.5" y2="243.3" stroke="#b0173f" stroke-width="1.1" />
<line x1="138.6" y1="234.5" x2="146.4" y2="234.5" stroke="#b0173f" stroke-width="1.1" />
<line x1="138.6" y1="243.5" x2="146.4" y2="243.5" stroke="#b0173f" stroke-width="1.1" />
<line x1="175.5" y1="216.2" x2="175.5" y2="238" stroke="#b0173f" stroke-width="1.1" />
<line x1="171.6" y1="216.5" x2="179.4" y2="216.5" stroke="#b0173f" stroke-width="1.1" />
<line x1="171.6" y1="238.5" x2="179.4" y2="238.5" stroke="#b0173f" stroke-width="1.1" />
<polyline points="77.1,278.5 111,265.6 144.8,254 175.3,245.2" fill="none" stroke="#6db33f" stroke-width="1.7" stroke-dasharray="3.6 2.4"/>
<line x1="77.1" y1="274.1" x2="77.1" y2="283" stroke="#6db33f" stroke-width="1.1" />
<line x1="73.19999999999999" y1="274.5" x2="81.0" y2="274.5" stroke="#6db33f" stroke-width="1.1" />
<line x1="73.19999999999999" y1="283.5" x2="81.0" y2="283.5" stroke="#6db33f" stroke-width="1.1" />
<line x1="111" y1="263.3" x2="111" y2="268.1" stroke="#6db33f" stroke-width="1.1" />
<line x1="107.1" y1="263.5" x2="114.9" y2="263.5" stroke="#6db33f" stroke-width="1.1" />
<line x1="107.1" y1="268.5" x2="114.9" y2="268.5" stroke="#6db33f" stroke-width="1.1" />
<line x1="144.8" y1="251.7" x2="144.8" y2="256.5" stroke="#6db33f" stroke-width="1.1" />
<line x1="140.9" y1="251.5" x2="148.70000000000002" y2="251.5" stroke="#6db33f" stroke-width="1.1" />
<line x1="140.9" y1="256.5" x2="148.70000000000002" y2="256.5" stroke="#6db33f" stroke-width="1.1" />
<line x1="175.3" y1="243.8" x2="175.3" y2="246.8" stroke="#6db33f" stroke-width="1.1" />
<line x1="171.4" y1="243.5" x2="179.20000000000002" y2="243.5" stroke="#6db33f" stroke-width="1.1" />
<line x1="171.4" y1="246.5" x2="179.20000000000002" y2="246.5" stroke="#6db33f" stroke-width="1.1" />
<polyline points="77.1,333.4 109.9,316.6 142.5,303.6 175.6,290.6" fill="none" stroke="#1f3f82" stroke-width="1.7" stroke-dasharray="3.6 2.4"/>
<line x1="77.1" y1="332.7" x2="77.1" y2="334.1" stroke="#1f3f82" stroke-width="1.1" />
<line x1="73.19999999999999" y1="332.5" x2="81.0" y2="332.5" stroke="#1f3f82" stroke-width="1.1" />
<line x1="73.19999999999999" y1="334.5" x2="81.0" y2="334.5" stroke="#1f3f82" stroke-width="1.1" />
<line x1="109.9" y1="312.8" x2="109.9" y2="320.8" stroke="#1f3f82" stroke-width="1.1" />
<line x1="106.0" y1="312.5" x2="113.80000000000001" y2="312.5" stroke="#1f3f82" stroke-width="1.1" />
<line x1="106.0" y1="320.5" x2="113.80000000000001" y2="320.5" stroke="#1f3f82" stroke-width="1.1" />
<line x1="142.5" y1="299.6" x2="142.5" y2="307.3" stroke="#1f3f82" stroke-width="1.1" />
<line x1="138.6" y1="299.5" x2="146.4" y2="299.5" stroke="#1f3f82" stroke-width="1.1" />
<line x1="138.6" y1="307.5" x2="146.4" y2="307.5" stroke="#1f3f82" stroke-width="1.1" />
<line x1="175.6" y1="287.4" x2="175.6" y2="293.5" stroke="#1f3f82" stroke-width="1.1" />
<line x1="171.7" y1="287.5" x2="179.5" y2="287.5" stroke="#1f3f82" stroke-width="1.1" />
<line x1="171.7" y1="293.5" x2="179.5" y2="293.5" stroke="#1f3f82" stroke-width="1.1" />
<circle cx="57.5" cy="217.3" r="2" fill="none" stroke="#e8901e" stroke-width="1.2"/>
<line x1="63.4" y1="255.5" x2="63.4" y2="332.5" stroke="#222" stroke-width="1" />
<line x1="62.9" y1="256" x2="66.6" y2="256" stroke="#222" stroke-width="1" />
<line x1="62.9" y1="278.5" x2="66.6" y2="278.5" stroke="#222" stroke-width="1" />
<line x1="62.9" y1="332" x2="66.6" y2="332" stroke="#222" stroke-width="1" />
<circle cx="59.6" cy="269.4" r="1.05" fill="#222"/>
<circle cx="59.6" cy="304.2" r="1.05" fill="#222"/>
<text x="208.8" y="222.9" font-size="9.2" text-anchor="start" fill="#1c1c1c" font-weight="normal" textLength="26.3" lengthAdjust="spacingAndGlyphs" stroke="#1c1c1c" stroke-width="0.22">cell line</text>
<line x1="208.8" y1="231.7" x2="222" y2="231.7" stroke="#b0173f" stroke-width="1.4" stroke-dasharray="3.4 2"/>
<text x="224.8" y="234.2" font-size="9.2" text-anchor="start" fill="#1c1c1c" font-weight="normal" textLength="22" lengthAdjust="spacingAndGlyphs" stroke="#1c1c1c" stroke-width="0.22">A2058</text>
<line x1="208.8" y1="242.5" x2="222" y2="242.5" stroke="#6db33f" stroke-width="1.4" stroke-dasharray="3.4 2"/>
<text x="224.8" y="245.0" font-size="9.2" text-anchor="start" fill="#1c1c1c" font-weight="normal" textLength="9.3" lengthAdjust="spacingAndGlyphs" stroke="#1c1c1c" stroke-width="0.22">H1</text>
<line x1="208.8" y1="253.29999999999998" x2="222" y2="253.29999999999998" stroke="#1f3f82" stroke-width="1.4" stroke-dasharray="3.4 2"/>
<text x="224.8" y="255.79999999999998" font-size="9.2" text-anchor="start" fill="#1c1c1c" font-weight="normal" textLength="19" lengthAdjust="spacingAndGlyphs" stroke="#1c1c1c" stroke-width="0.22">Jimt1</text>
<circle cx="216" cy="264" r="1.9" fill="none" stroke="#e8901e" stroke-width="1.2"/>
<text x="224.8" y="267" font-size="9.2" text-anchor="start" fill="#1c1c1c" font-weight="normal" textLength="35.2" lengthAdjust="spacingAndGlyphs" stroke="#1c1c1c" stroke-width="0.22">ctr plasma</text>
<text x="274.8" y="206.6" font-size="12.5" text-anchor="start" fill="#000" font-weight="bold" stroke="#000" stroke-width="0.35">D</text>
<rect x="324.8" y="231.8" width="8.5" height="117.69999999999999" fill="#2c4b81" stroke="#1f3a6c" stroke-width="0.8"/>
<rect x="334.7" y="242.6" width="8.7" height="106.9" fill="#a6002e" stroke="#8c0026" stroke-width="0.8"/>
<rect x="345" y="279.3" width="8.7" height="70.19999999999999" fill="#6aab45" stroke="#55923a" stroke-width="0.8"/>
<line x1="329.2" y1="224.8" x2="329.2" y2="231.5" stroke="#555" stroke-width="1" />
<line x1="326.3" y1="224.5" x2="332.09999999999997" y2="224.5" stroke="#2a2a2a" stroke-width="1" />
<line x1="339.2" y1="228.5" x2="339.2" y2="255.4" stroke="#444" stroke-width="1" />
<line x1="336.09999999999997" y1="228.5" x2="342.3" y2="228.5" stroke="#2a2a2a" stroke-width="1" />
<line x1="336.09999999999997" y1="255.5" x2="342.3" y2="255.5" stroke="#2a2a2a" stroke-width="1" />
<line x1="349.3" y1="270" x2="349.3" y2="288" stroke="#333" stroke-width="1" />
<line x1="346.40000000000003" y1="270.5" x2="352.2" y2="270.5" stroke="#2a2a2a" stroke-width="1" />
<line x1="346.40000000000003" y1="288.5" x2="352.2" y2="288.5" stroke="#2a2a2a" stroke-width="1" />
<line x1="320.5" y1="216.7" x2="320.5" y2="350" stroke="#111" stroke-width="1.1" />
<line x1="320" y1="349.5" x2="357.8" y2="349.5" stroke="#111" stroke-width="1.1" />
<line x1="320" y1="318.4" x2="358" y2="318.4" stroke="#111" stroke-width="1.1" stroke-dasharray="3.2 2.6"/>
<line x1="317.2" y1="318.4" x2="320.5" y2="318.4" stroke="#111" stroke-width="1" />
<text x="314.3" y="321.4" font-size="8.5" text-anchor="end" fill="#1c1c1c" font-weight="normal" stroke="#1c1c1c" stroke-width="0.22">100</text>
<line x1="317.2" y1="239.59999999999997" x2="320.5" y2="239.59999999999997" stroke="#111" stroke-width="1" />
<text x="314.3" y="242.59999999999997" font-size="8.5" text-anchor="end" fill="#1c1c1c" font-weight="normal" stroke="#1c1c1c" stroke-width="0.22">150</text>
<line x1="330" y1="219.5" x2="349" y2="219.5" stroke="#222" stroke-width="1" />
<line x1="339.3" y1="221.3" x2="349" y2="221.3" stroke="#222" stroke-width="1" />
<circle cx="340.4" cy="215.3" r="0.95" fill="#222"/>
<circle cx="344.2" cy="215.3" r="0.95" fill="#222"/>
<text transform="translate(296.2 327) rotate(-90)" font-size="10" text-anchor="start" fill="#1c1c1c" textLength="85" lengthAdjust="spacingAndGlyphs" stroke="#1c1c1c" stroke-width="0.22">Thrombin generation [%]</text>
<text transform="translate(332 353.8) rotate(-90)" font-size="8.3" text-anchor="end" fill="#1c1c1c" textLength="19.3" lengthAdjust="spacingAndGlyphs" stroke="#1c1c1c" stroke-width="0.22">Jimt1</text>
<text transform="translate(342.3 353.8) rotate(-90)" font-size="8.3" text-anchor="end" fill="#1c1c1c" textLength="23" lengthAdjust="spacingAndGlyphs" stroke="#1c1c1c" stroke-width="0.22">A2058</text>
<text transform="translate(352.3 353.8) rotate(-90)" font-size="8.3" text-anchor="end" fill="#1c1c1c" textLength="9" lengthAdjust="spacingAndGlyphs" stroke="#1c1c1c" stroke-width="0.22">H1</text>
<text x="374.2" y="206.6" font-size="12.5" text-anchor="start" fill="#000" font-weight="bold" stroke="#000" stroke-width="0.35">E</text>
<rect x="423.6" y="230.2" width="8.2" height="107.80000000000001" fill="#54266a" stroke="#3f1a52" stroke-width="0.8"/>
<rect x="439" y="302.2" width="8.4" height="35.80000000000001" fill="#2c4b81" stroke="#1f3a6c" stroke-width="0.8"/>
<rect x="448.4" y="338" width="8.7" height="3.3" fill="#2c4b81" stroke="#1f3a6c" stroke-width="0.8"/>
<rect x="465.2" y="293.2" width="8.4" height="44.80000000000001" fill="#a6002e" stroke="#8c0026" stroke-width="0.8"/>
<rect x="474.7" y="338" width="8.4" height="2.3" fill="#a6002e" stroke="#8c0026" stroke-width="0.8"/>
<rect x="491.2" y="308.4" width="8.4" height="29.600000000000023" fill="#6aab45" stroke="#55923a" stroke-width="0.8"/>
<rect x="500.7" y="338" width="8" height="1.2" fill="#6aab45" stroke="#55923a" stroke-width="0.8"/>
<line x1="427.6" y1="219.4" x2="427.6" y2="239.3" stroke="#2a2a2a" stroke-width="1" />
<line x1="424.6" y1="219.5" x2="430.6" y2="219.5" stroke="#2a2a2a" stroke-width="1" />
<line x1="424.6" y1="239.5" x2="430.6" y2="239.5" stroke="#2a2a2a" stroke-width="1" />
<line x1="443.2" y1="284.6" x2="443.2" y2="306.4" stroke="#2a2a2a" stroke-width="1" />
<line x1="440.2" y1="284.5" x2="446.2" y2="284.5" stroke="#2a2a2a" stroke-width="1" />
<line x1="440.2" y1="306.5" x2="446.2" y2="306.5" stroke="#2a2a2a" stroke-width="1" />
<line x1="452.8" y1="341.5" x2="452.8" y2="346.2" stroke="#2a2a2a" stroke-width="1" />
<line x1="449.90000000000003" y1="346.5" x2="455.7" y2="346.5" stroke="#2a2a2a" stroke-width="1" />
<line x1="469.2" y1="279.4" x2="469.2" y2="306.4" stroke="#2a2a2a" stroke-width="1" />
<line x1="466.2" y1="279.5" x2="472.2" y2="279.5" stroke="#2a2a2a" stroke-width="1" />
<line x1="466.2" y1="306.5" x2="472.2" y2="306.5" stroke="#2a2a2a" stroke-width="1" />
<line x1="478.7" y1="340.6" x2="478.7" y2="343.6" stroke="#2a2a2a" stroke-width="1" />
<line x1="475.8" y1="343.5" x2="481.59999999999997" y2="343.5" stroke="#2a2a2a" stroke-width="1" />
<line x1="495.4" y1="289.6" x2="495.4" y2="325.6" stroke="#2a2a2a" stroke-width="1" />
<line x1="492.4" y1="289.5" x2="498.4" y2="289.5" stroke="#2a2a2a" stroke-width="1" />
<line x1="492.4" y1="325.5" x2="498.4" y2="325.5" stroke="#2a2a2a" stroke-width="1" />
<line x1="504.7" y1="339.4" x2="504.7" y2="341.6" stroke="#2a2a2a" stroke-width="1" />
<line x1="501.8" y1="341.5" x2="507.59999999999997" y2="341.5" stroke="#2a2a2a" stroke-width="1" />
<line x1="418.6" y1="212.7" x2="418.6" y2="349.6" stroke="#111" stroke-width="1.1" />
<line x1="418.2" y1="349.2" x2="513" y2="349.2" stroke="#111" stroke-width="1.1" />
<line x1="419" y1="337.8" x2="512.5" y2="337.8" stroke="#111" stroke-width="1.1" />
<line x1="415.5" y1="338.0" x2="418.6" y2="338.0" stroke="#111" stroke-width="1" />
<text x="412.6" y="341.0" font-size="8.5" text-anchor="end" fill="#1c1c1c" font-weight="normal" stroke="#1c1c1c" stroke-width="0.22">0</text>
<line x1="415.5" y1="285.7" x2="418.6" y2="285.7" stroke="#111" stroke-width="1" />
<text x="412.6" y="288.7" font-size="8.5" text-anchor="end" fill="#1c1c1c" font-weight="normal" stroke="#1c1c1c" stroke-width="0.22">50</text>
<line x1="415.5" y1="233.39999999999998" x2="418.6" y2="233.39999999999998" stroke="#111" stroke-width="1" />
<text x="412.6" y="236.39999999999998" font-size="8.5" text-anchor="end" fill="#1c1c1c" font-weight="normal" stroke="#1c1c1c" stroke-width="0.22">100</text>
<line x1="422.3" y1="212.5" x2="499.7" y2="212.5" stroke="#333" stroke-width="1" />
<rect x="422.3" y="214.1" width="51.8" height="2" fill="#999"/>
<line x1="422.3" y1="217.3" x2="448.1" y2="217.3" stroke="#7a7a7a" stroke-width="1" />
<circle cx="442.5" cy="222.3" r="1.05" fill="#222"/>
<circle cx="469" cy="221" r="1.05" fill="#222"/>
<circle cx="494.6" cy="218.8" r="1.05" fill="#222"/>
<line x1="438.5" y1="265" x2="456.5" y2="265" stroke="#6a6a6a" stroke-width="1.7" />
<circle cx="453" cy="260.7" r="1.05" fill="#222"/>
<line x1="465.2" y1="265" x2="483.2" y2="265" stroke="#6a6a6a" stroke-width="1.7" />
<circle cx="479" cy="260.7" r="1.05" fill="#222"/>
<line x1="491" y1="265" x2="509.6" y2="265" stroke="#6a6a6a" stroke-width="1.7" />
<circle cx="504.2" cy="260.7" r="1.05" fill="#222"/>
<text transform="translate(392.7 323.8) rotate(-90)" font-size="10" text-anchor="start" fill="#1c1c1c" textLength="83.5" lengthAdjust="spacingAndGlyphs" stroke="#1c1c1c" stroke-width="0.22">Platelet aggregation [%]</text>
<text transform="translate(430.4 353.2) rotate(-90)" font-size="8.3" text-anchor="end" fill="#1c1c1c" textLength="35" lengthAdjust="spacingAndGlyphs" stroke="#1c1c1c" stroke-width="0.22">Thrombin</text>
<text transform="translate(445.9 353.2) rotate(-90)" font-size="8.3" text-anchor="end" fill="#1c1c1c" textLength="20" lengthAdjust="spacingAndGlyphs" stroke="#1c1c1c" stroke-width="0.22">Jimt1</text>
<text transform="translate(456.2 353.2) rotate(-90)" font-size="8.3" text-anchor="end" fill="#1c1c1c" textLength="17.4" lengthAdjust="spacingAndGlyphs" stroke="#1c1c1c" stroke-width="0.22">tinza</text>
<text transform="translate(472.5 353.2) rotate(-90)" font-size="8.3" text-anchor="end" fill="#1c1c1c" textLength="23.5" lengthAdjust="spacingAndGlyphs" stroke="#1c1c1c" stroke-width="0.22">A2058</text>
<text transform="translate(482.3 353.2) rotate(-90)" font-size="8.3" text-anchor="end" fill="#1c1c1c" textLength="17.4" lengthAdjust="spacingAndGlyphs" stroke="#1c1c1c" stroke-width="0.22">tinza</text>
<text transform="translate(497.9 353.2) rotate(-90)" font-size="8.3" text-anchor="end" fill="#1c1c1c" textLength="10.5" lengthAdjust="spacingAndGlyphs" stroke="#1c1c1c" stroke-width="0.22">H1</text>
<text transform="translate(508.5 353.2) rotate(-90)" font-size="8.3" text-anchor="end" fill="#1c1c1c" textLength="17.4" lengthAdjust="spacingAndGlyphs" stroke="#1c1c1c" stroke-width="0.22">tinza</text>
<rect x="0.5" y="0.5" width="519" height="394" fill="none" stroke="#000" stroke-width="1"/>
</svg>
</body></html>
